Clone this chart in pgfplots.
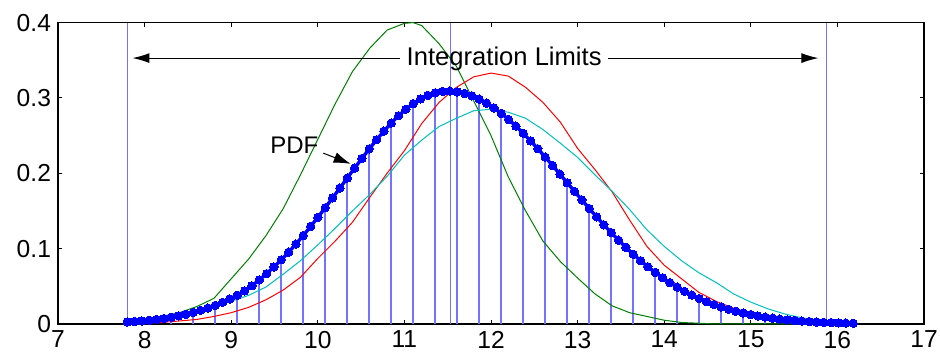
\documentclass[border=0pt]{standalone}
\usepackage{fontspec}
\setmainfont{Liberation Sans}
\usepackage{pgfplots}
\usepackage{pgfplotstable}
\pgfplotsset{compat=1.18}
\usetikzlibrary{arrows.meta,calc}
\definecolor{mgreen}{rgb}{0,0.5,0}
\definecolor{mcyan}{rgb}{0,0.75,0.75}
\definecolor{stemblue}{RGB}{115,115,255}

\pgfplotstableread{
x y
7.800 0.0027
7.885 0.0033
7.969 0.0041
8.054 0.0050
8.139 0.0061
8.223 0.0074
8.308 0.0090
8.393 0.0108
8.477 0.0129
8.562 0.0154
8.647 0.0181
8.731 0.0212
8.816 0.0247
8.901 0.0287
8.985 0.0332
9.070 0.0382
9.155 0.0440
9.239 0.0507
9.324 0.0585
9.409 0.0668
9.493 0.0757
9.578 0.0852
9.663 0.0953
9.747 0.1060
9.832 0.1174
9.917 0.1294
10.001 0.1416
10.086 0.1543
10.171 0.1674
10.255 0.1804
10.340 0.1937
10.425 0.2069
10.509 0.2197
10.594 0.2324
10.679 0.2445
10.763 0.2559
10.848 0.2666
10.933 0.2764
11.017 0.2850
11.102 0.2925
11.187 0.2987
11.271 0.3034
11.356 0.3068
11.441 0.3086
11.525 0.3090
11.610 0.3080
11.695 0.3059
11.779 0.3028
11.864 0.2984
11.949 0.2931
12.033 0.2868
12.118 0.2795
12.203 0.2714
12.287 0.2626
12.372 0.2531
12.457 0.2430
12.541 0.2325
12.626 0.2215
12.711 0.2103
12.795 0.1989
12.880 0.1874
12.965 0.1759
13.049 0.1646
13.134 0.1533
13.219 0.1422
13.303 0.1316
13.388 0.1212
13.473 0.1112
13.557 0.1018
13.642 0.0926
13.727 0.0840
13.811 0.0760
13.896 0.0685
13.981 0.0614
14.065 0.0549
14.150 0.0489
14.235 0.0433
14.319 0.0384
14.404 0.0338
14.489 0.0296
14.573 0.0259
14.658 0.0225
14.743 0.0195
14.827 0.0169
14.912 0.0146
14.997 0.0125
15.081 0.0107
15.166 0.0091
15.251 0.0077
15.335 0.0065
15.420 0.0055
15.505 0.0046
15.589 0.0038
15.674 0.0032
15.759 0.0026
15.843 0.0022
15.928 0.0018
16.013 0.0015
16.097 0.0012
16.182 0.0010
}\pdftab

\pgfplotstableread{
x y
8.054 0.0050
8.308 0.0090
8.562 0.0154
8.816 0.0247
9.070 0.0382
9.324 0.0585
9.578 0.0852
9.832 0.1174
10.086 0.1543
10.340 0.1937
10.594 0.2324
10.848 0.2666
11.102 0.2925
11.356 0.3068
11.610 0.3080
11.864 0.2984
12.118 0.2795
12.372 0.2531
12.626 0.2215
12.880 0.1874
13.134 0.1533
13.388 0.1212
13.642 0.0926
13.896 0.0685
14.150 0.0489
14.404 0.0338
14.658 0.0225
14.912 0.0146
15.166 0.0091
15.420 0.0055
15.674 0.0032
}\stemtab

\pgfplotstableread{
x y
7.80 0.002
8.00 0.005
8.20 0.010
8.40 0.015
8.60 0.023
8.80 0.034
9.00 0.060
9.20 0.086
9.40 0.117
9.60 0.153
9.80 0.198
10.00 0.245
10.20 0.292
10.40 0.335
10.60 0.366
10.80 0.390
11.00 0.399
11.10 0.400
11.20 0.396
11.40 0.372
11.60 0.342
11.80 0.296
12.00 0.250
12.20 0.195
12.40 0.150
12.60 0.110
12.80 0.083
13.00 0.061
13.20 0.040
13.40 0.024
13.60 0.015
13.80 0.010
14.00 0.005
14.20 0.002
14.40 0.001
14.60 0.000
15.00 0.000
15.50 0.000
16.00 0.000
16.20 0.000
}\greentab

\pgfplotstableread{
x y
7.80 0.000
8.00 0.001
8.20 0.002
8.40 0.004
8.60 0.006
8.80 0.010
9.00 0.015
9.20 0.022
9.40 0.032
9.60 0.045
9.80 0.062
10.00 0.087
10.20 0.110
10.40 0.135
10.60 0.168
10.80 0.200
11.00 0.230
11.20 0.266
11.40 0.294
11.60 0.314
11.80 0.328
12.00 0.333
12.20 0.329
12.40 0.314
12.60 0.294
12.80 0.268
13.00 0.233
13.20 0.205
13.40 0.175
13.60 0.138
13.80 0.103
14.00 0.078
14.20 0.060
14.40 0.042
14.60 0.030
14.80 0.021
15.00 0.014
15.20 0.009
15.40 0.005
15.60 0.003
15.80 0.002
16.00 0.001
16.20 0.001
}\redtab

\pgfplotstableread{
x y
7.80 0.001
8.00 0.004
8.20 0.008
8.40 0.012
8.60 0.017
8.80 0.023
9.00 0.030
9.20 0.038
9.40 0.049
9.60 0.066
9.80 0.084
10.00 0.105
10.20 0.127
10.40 0.150
10.60 0.172
10.80 0.196
11.00 0.224
11.20 0.244
11.40 0.262
11.60 0.273
11.80 0.283
12.00 0.285
12.20 0.281
12.40 0.273
12.60 0.258
12.80 0.240
13.00 0.221
13.20 0.198
13.40 0.176
13.60 0.152
13.80 0.125
14.00 0.103
14.20 0.084
14.40 0.068
14.60 0.055
14.80 0.040
15.00 0.029
15.20 0.020
15.40 0.013
15.60 0.008
15.80 0.005
16.00 0.003
16.20 0.002
}\cyantab

\begin{document}
\begin{tikzpicture}
\begin{axis}[
  name=ax,
  scale only axis,
  width=433pt, height=150.7pt,
  xmin=7, xmax=17, ymin=0, ymax=0.4,
  xtick={7,8,...,17},
  ytick={0,0.1,0.2,0.3,0.4},
  yticklabels={0,0.1,0.2,0.3,0.4},
  tick align=inside,
  major tick length=2.2pt,
  tick style={black, line width=0.5pt},
  axis line style={black, line width=0.6pt},
  ticklabel style={font=\fontsize{12.3}{14}\selectfont},
  /pgf/number format/assume math mode=true,
  clip=false,
]
\addplot[ycomb, stemblue, line width=0.8pt, mark=none] table {\stemtab};
\addplot[ycomb, stemblue, line width=0.6pt, mark=none] coordinates {(7.8,0.4) (11.53,0.4) (15.87,0.4)};
\addplot[blue, line width=1.7pt, mark=*, mark size=2.1pt, mark options={fill=blue, draw=blue, line width=0pt}] table {\pdftab};
\addplot[mgreen, line width=0.5pt, mark=none] table {\greentab};
\addplot[red, line width=0.5pt, mark=none] table {\redtab};
\addplot[mcyan, line width=0.5pt, mark=none] table {\cyantab};

\node[anchor=base, inner sep=0pt, font=\fontsize{12.8}{15}\selectfont] at (axis cs:12.152,0.3426) {Integration Limits};
\draw[-{Latex[length=8.5pt,width=5pt]}, line width=0.5pt] (axis cs:10.95,0.3529) -- (axis cs:7.86,0.3529);
\draw[-{Latex[length=8.5pt,width=5pt]}, line width=0.5pt] (axis cs:13.35,0.3529) -- (axis cs:15.78,0.3529);
\node[anchor=base west, inner sep=0pt, font=\fontsize{12}{14}\selectfont] at (axis cs:9.448,0.2267) {PDF};
\draw[-{Latex[length=8.5pt,width=5.5pt]}, line width=0.5pt] (axis cs:10.064,0.2267) -- (axis cs:10.38,0.2125);
\end{axis}
\pgfresetboundingbox
\path ($(ax.south west)+(-29pt,-15.5pt)$) rectangle ($(ax.north east)+(8pt,11.3pt)$);
\end{tikzpicture}
\end{document}
